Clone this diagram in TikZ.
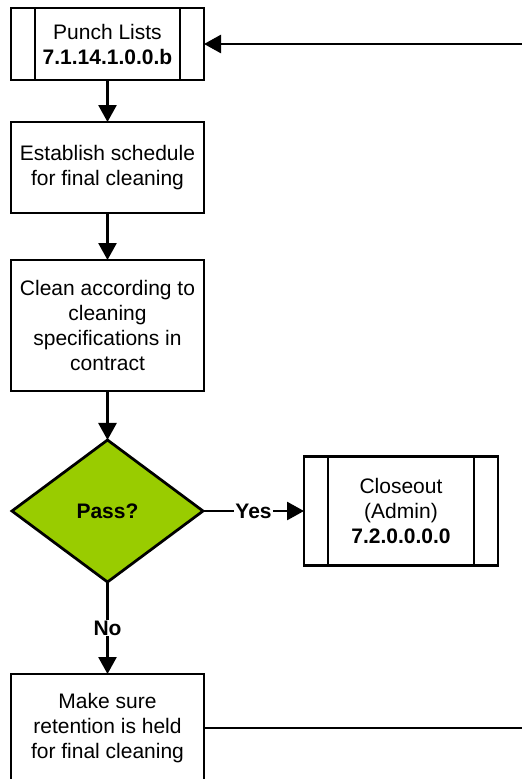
\documentclass[tikz,border=0pt]{standalone}
\usepackage{fontspec}
\setmainfont{Liberation Sans}
\usetikzlibrary{arrows.meta,positioning,shapes.geometric}
\definecolor{passgreen}{RGB}{153,204,0}

\begin{document}
\begin{tikzpicture}[x=1pt, y=1pt,
        every node/.style={font=\fontsize{21}{25}\selectfont},
        block/.style={draw, line width=2.75pt, fill=white, minimum width=193pt,
                      align=center, inner sep=0pt, outer sep=0pt},
        subproc/.style={block, path picture={
            \draw[line width=2.75pt]
                ([xshift=24pt]path picture bounding box.north west) -- ([xshift=24pt]path picture bounding box.south west)
                ([xshift=-24pt]path picture bounding box.north east) -- ([xshift=-24pt]path picture bounding box.south east);}},
        decision/.style={diamond, draw, line width=2.75pt, fill=passgreen,
                         minimum width=191pt, minimum height=142pt, inner sep=0pt, outer sep=0pt,
                         font=\fontsize{21}{25}\selectfont\bfseries},
        arr/.style={-{Triangle[length=17pt, width=18pt]}, line width=2.75pt},
        lbl/.style={fill=white, inner sep=1pt, font=\fontsize{21}{25}\selectfont\bfseries}
    ]
        \useasboundingbox (0,0) rectangle (522,-779);

        \node[subproc, minimum height=72pt] (punch) at (107.5,-44) {Punch Lists \\ \textbf{7.1.14.1.0.0.b}};
        \node[block, minimum height=91pt, below=42pt of punch] (sched) {Establish schedule \\ for final cleaning};
        \node[block, minimum height=131pt, below=47pt of sched] (clean) {Clean according to \\ cleaning \\ specifications in \\ contract};
        \node[decision, below=49pt of clean] (pass) {Pass?};
        \node[subproc, minimum width=194pt, minimum height=109pt, right=101pt of pass] (close) {Closeout \\ (Admin) \\ \textbf{7.2.0.0.0.0}};
        \node[block, minimum height=108pt, below=92pt of pass] (retain) {Make sure \\ retention is held \\ for final cleaning};
        \coordinate[right=330pt of retain.east] (loop);

        \draw[arr] (punch) -- (sched);
        \draw[arr] (sched) -- (clean);
        \draw[arr] (clean) -- (pass);
        \draw[arr] (pass.east) -- node[lbl] {Yes} (pass.east -| close.west);
        \draw[arr] (pass) -- node[lbl] {No} (retain);
        \draw[arr] (retain.east) -- (loop) |- (punch.east);
    \end{tikzpicture}
\end{document}
